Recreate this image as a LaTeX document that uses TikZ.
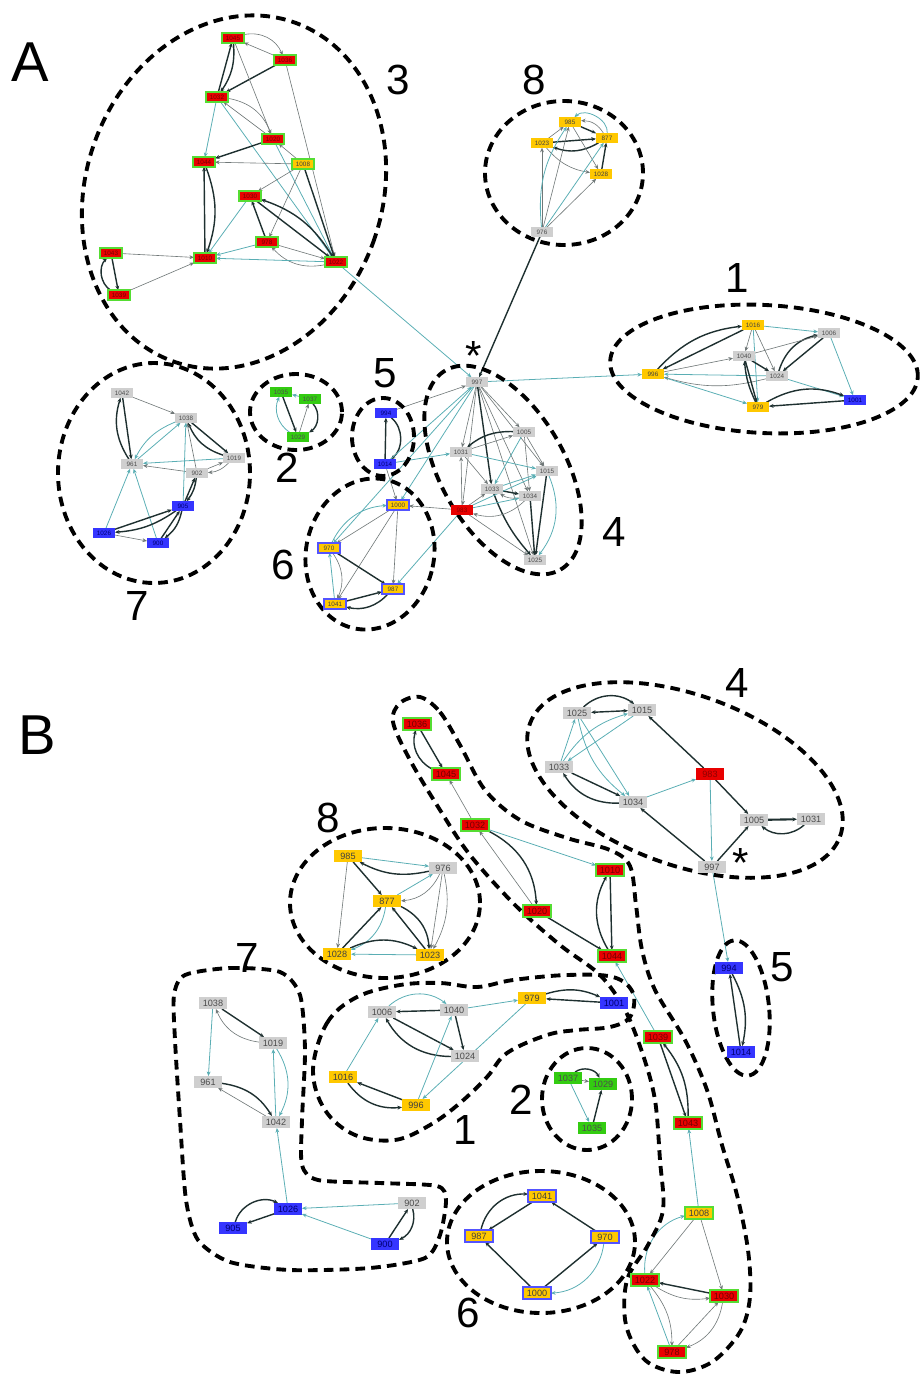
\documentclass[tikz,border=0pt]{standalone}
\usepackage{fontspec}
\setmainfont{Liberation Sans}
\usetikzlibrary{arrows.meta,shapes.geometric}
\pgfdeclarelayer{bg}
\pgfdeclarelayer{mid}
\pgfsetlayers{bg,mid,main}
\definecolor{nred}{HTML}{E80000}
\definecolor{nbord}{HTML}{55DD33}
\definecolor{ngreen}{HTML}{33CC11}
\definecolor{nyel}{HTML}{FFC800}
\definecolor{ngray}{HTML}{CFCFCF}
\definecolor{nblue}{HTML}{3535FF}
\definecolor{ekdark}{HTML}{1E3030}
\definecolor{ekgray}{HTML}{707878}
\definecolor{ekteal}{HTML}{5AAEB4}
\tikzset{
  nd/.style={rectangle, inner sep=0pt, outer sep=0pt},
  sa/.style={nd, minimum width=0.44cm, minimum height=0.19cm, font=\fontsize{3.6}{3.6}\selectfont},
  sb/.style={nd, minimum width=0.56cm, minimum height=0.24cm, font=\fontsize{5.2}{5.2}\selectfont},
  gr/.style={fill=ngray, text=black!70},
  ye/.style={fill=nyel, text=black!75},
  bl/.style={fill=nblue, text=black!55!blue},
  gn/.style={fill=ngreen, text=black!70},
  rd/.style={fill=nred, draw=nbord, line width=0.9pt, text=black!55!red},
  rp/.style={fill=nred, text=black!45!red},
  yg/.style={fill=nyel, draw=nbord, line width=0.9pt, text=black!75},
  yb/.style={fill=nyel, draw=nblue!85, line width=0.9pt, text=black!75},
  tipped/.style={-{Stealth[length=2.6pt,width=2.2pt]}},
  dk/.style={tipped, draw=ekdark, line width=0.8pt},
  gy/.style={tipped, draw=ekgray, line width=0.35pt},
  tl/.style={tipped, draw=ekteal, line width=0.45pt},
  hull/.style={draw=black, line width=2.2pt, dash pattern=on 5.5pt off 3.5pt},
  panel/.style={font=\fontsize{32}{32}\selectfont},
  num/.style={font=\fontsize{24}{24}\selectfont},
  star/.style={font=\fontsize{24}{24}\selectfont, inner sep=0pt, anchor=south},
}
\newcommand\mkA[4]{\node[sa,#4] (a#1) at (#2,-#3) {#1};}
\newcommand\mkB[4]{\node[sb,#4] (b#1) at (#2,-#3) {#1};}
\begin{document}
\begin{tikzpicture}[x=0.02cm, y=0.02cm]
\useasboundingbox (0,0) rectangle (921,-1377);

% ---------------- Panel A: nodes ----------------
% module 3
\mkA{1045}{233}{38}{rd}
\mkA{1036}{285}{60}{rd}
\mkA{1032}{217}{97}{rd}
\mkA{1020}{273}{139}{rd}
\mkA{1044}{204}{162}{rd}
\mkA{1008}{303}{164}{yg}
\mkA{1030}{250}{196}{rd}
\mkA{978}{267}{242}{rd}
\mkA{1010}{205}{258}{rd}
\mkA{1022}{336}{262}{rd}
\mkA{1043}{111}{253}{rd}
\mkA{1039}{119}{295}{rd}
% module 8
\mkA{985}{570}{122}{ye}
\mkA{877}{607}{138}{ye}
\mkA{1023}{542}{143}{ye}
\mkA{1028}{601}{174}{ye}
\mkA{976}{542}{232}{gr}
% module 1
\mkA{1016}{753}{325}{ye}
\mkA{1006}{829}{333}{gr}
\mkA{1040}{744}{356}{gr}
\mkA{996}{653}{374}{ye}
\mkA{1024}{777}{376}{gr}
\mkA{1001}{855}{400}{bl}
\mkA{979}{758}{407}{ye}
% module 7
\mkA{1042}{122}{393}{gr}
\mkA{1038}{186}{418}{gr}
\mkA{1019}{234}{458}{gr}
\mkA{961}{132}{464}{gr}
\mkA{902}{197}{473}{gr}
\mkA{905}{183}{506}{bl}
\mkA{1026}{104}{533}{bl}
\mkA{900}{158}{543}{bl}
% module 2
\mkA{1035}{281}{392}{gn}
\mkA{1037}{310}{399}{gn}
\mkA{1029}{298}{437}{gn}
% module 5
\mkA{994}{386}{413}{bl}
\mkA{1014}{385}{464}{bl}
% module 4
\mkA{997}{477}{382}{gr}
\mkA{1005}{524}{432}{gr}
\mkA{1031}{461}{452}{gr}
\mkA{1015}{547}{471}{gr}
\mkA{1033}{492}{489}{gr}
\mkA{1034}{530}{496}{gr}
\mkA{983}{462}{510}{rp}
\mkA{1025}{535}{560}{gr}
% module 6
\mkA{1000}{398}{505}{yb}
\mkA{970}{329}{548}{yb}
\mkA{987}{393}{589}{yb}
\mkA{1041}{335}{604}{yb}

% ---------------- Panel B: nodes ----------------
% module 4
\mkB{1025}{577}{713}{gr}
\mkB{1015}{642}{710}{gr}
\mkB{1033}{559}{767}{gr}
\mkB{983}{710}{774}{rp}
\mkB{1034}{633}{802}{gr}
\mkB{1005}{754}{820}{gr}
\mkB{1031}{811}{819}{gr}
\mkB{997}{712}{867}{gr}
% module 3
\mkB{1036}{417}{724}{rd}
\mkB{1045}{446}{774}{rd}
\mkB{1032}{475}{825}{rd}
\mkB{1010}{610}{870}{rd}
\mkB{1020}{537}{911}{rd}
\mkB{1044}{612}{956}{rd}
\mkB{1039}{658}{1037}{rd}
\mkB{1043}{688}{1123}{rd}
\mkB{1008}{699}{1213}{yg}
\mkB{1022}{645}{1280}{rd}
\mkB{1030}{724}{1296}{rd}
\mkB{978}{672}{1352}{rd}
% module 8
\mkB{985}{348}{856}{ye}
\mkB{976}{443}{868}{gr}
\mkB{877}{387}{901}{ye}
\mkB{1028}{337}{954}{ye}
\mkB{1023}{430}{955}{ye}
% module 1
\mkB{1006}{382}{1012}{gr}
\mkB{1040}{454}{1010}{gr}
\mkB{979}{532}{998}{ye}
\mkB{1001}{614}{1003}{bl}
\mkB{1024}{465}{1056}{gr}
\mkB{1016}{343}{1077}{ye}
\mkB{996}{416}{1105}{ye}
% module 2
\mkB{1037}{568}{1078}{gn}
\mkB{1029}{603}{1084}{gn}
\mkB{1035}{592}{1128}{gn}
% module 7
\mkB{1038}{213}{1003}{gr}
\mkB{1019}{273}{1043}{gr}
\mkB{961}{208}{1082}{gr}
\mkB{1042}{276}{1122}{gr}
\mkB{1026}{288}{1209}{bl}
\mkB{902}{412}{1203}{gr}
\mkB{905}{233}{1228}{bl}
\mkB{900}{385}{1244}{bl}
% module 5
\mkB{994}{729}{968}{bl}
\mkB{1014}{741}{1052}{bl}
% module 6
\mkB{1041}{542}{1196}{yb}
\mkB{987}{479}{1236}{yb}
\mkB{970}{605}{1237}{yb}
\mkB{1000}{537}{1293}{yb}

% ---------------- labels ----------------
\node[panel] (pA) at (30,-62) {A};
\node[panel] (pB) at (37,-735) {B};
\node[num] (nA3) at (398,-80) {3};
\node[num] (nA8) at (534,-80) {8};
\node[num] (nA1) at (737,-278) {1};
\node[num] (nA2) at (287,-468) {2};
\node[num] (nA5) at (385,-373) {5};
\node[num] (nA4) at (614,-532) {4};
\node[num] (nA6) at (283,-565) {6};
\node[num] (nA7) at (137,-606) {7};
\node[star] (sA) at (474,-371) {*};
\node[num] (nB4) at (737,-683) {4};
\node[num] (nB8) at (328,-818) {8};
\node[num] (nB7) at (247,-958) {7};
\node[num] (nB5) at (782,-967) {5};
\node[num] (nB2) at (521,-1100) {2};
\node[num] (nB1) at (465,-1130) {1};
\node[num] (nB6) at (468,-1313) {6};
\node[star] (sB) at (741,-878) {*};

% ---------------- module outlines ----------------
\begin{pgfonlayer}{mid}
% panel A
\draw[hull, rotate around={-20:(234,-192)}] (234,-192) ellipse [x radius=148, y radius=180];
\draw[hull] (564,-173) ellipse [x radius=79, y radius=72];
\draw[hull, rotate around={-3:(764,-369)}] (764,-369) ellipse [x radius=154, y radius=64];
\draw[hull] (154,-473) ellipse [x radius=96, y radius=110];
\draw[hull] (296,-412) ellipse [x radius=46, y radius=38];
\draw[hull] (383,-437) ellipse [x radius=31, y radius=39];
\draw[hull, rotate around={-60:(503,-470)}] (503,-470) ellipse [x radius=115, y radius=62];
\draw[hull, rotate around={-12:(370,-554)}] (370,-554) ellipse [x radius=64, y radius=76];
% panel B
\draw[hull, rotate around={-20:(685,-780)}] (685,-780) ellipse [x radius=165, y radius=85];
\draw[hull] (385,-903) ellipse [x radius=95, y radius=75];
\draw[hull] (587,-1099) ellipse [x radius=45, y radius=51];
\draw[hull, rotate around={6:(741,-1008)}] (741,-1008) ellipse [x radius=28, y radius=68];
\draw[hull] (541,-1242) ellipse [x radius=94, y radius=71];
% module 1 outline
\draw[hull] plot[smooth cycle, tension=0.6] coordinates {
  (313,-1070) (327,-1023) (357,-997) (400,-985) (440,-983) (477,-987)
  (513,-980) (567,-975) (613,-977) (633,-993) (630,-1017) (610,-1027)
  (577,-1030) (547,-1035) (507,-1053) (487,-1077) (460,-1103) (430,-1125)
  (395,-1140) (355,-1135) (325,-1110)};
% module 7 outline
\draw[hull] plot[smooth cycle, tension=0.45] coordinates {
  (185,-975) (230,-968) (280,-972) (300,-995) (305,-1050) (302,-1120)
  (302,-1165) (318,-1180) (380,-1183) (437,-1186) (446,-1200) (440,-1235)
  (425,-1258) (370,-1268) (290,-1270) (230,-1262) (198,-1240) (186,-1200)
  (180,-1120) (175,-1040) (174,-995)};
% module 3 outline
\draw[hull] plot[smooth cycle, tension=0.55] coordinates {
  (420,-697) (440,-712) (460,-745) (485,-790) (520,-820) (567,-838)
  (610,-850) (630,-866) (636,-905) (642,-950) (655,-990) (685,-1040)
  (707,-1090) (722,-1145) (737,-1195) (748,-1250) (750,-1297) (740,-1332)
  (712,-1362) (678,-1372) (645,-1360) (626,-1325) (627,-1280) (648,-1245)
  (663,-1210) (660,-1160) (655,-1100) (643,-1055) (625,-1010) (600,-975)
  (560,-945) (515,-905) (470,-855) (440,-810) (410,-760) (393,-722) (400,-703)};
\end{pgfonlayer}

% ---------------- interactions ----------------
\begin{pgfonlayer}{bg}
% panel A, module 3
\draw[gy] (a1045) to[bend left=40] (a1036);
\draw[gy] (a1036) -- (a1045);
\draw[dk] (a1032) -- (a1045);
\draw[dk] (a1045) to[bend left=20] (a1032);
\draw[dk] (a1036) -- (a1032);
\draw[gy] (a1045) -- (a1020);
\draw[gy] (a1032) to[bend left=30] (a1020);
\draw[gy] (a1020) -- (a1032);
\draw[tl] (a1032) -- (a1044);
\draw[tl] (a1032) -- (a1022);
\draw[dk] (a1020) -- (a1044);
\draw[gy] (a1008) -- (a1044);
\draw[gy] (a1008) -- (a1020);
\draw[gy] (a1036) -- (a1022);
\draw[tl] (a1020) -- (a1022);
\draw[gy] (a1008) -- (a1030);
\draw[gy] (a1008) -- (a978);
\draw[dk] (a1008) -- (a1022);
\draw[dk] (a1010) -- (a1044);
\draw[dk] (a1044) to[bend left=20] (a1010);
\draw[tl] (a1030) -- (a1010);
\draw[dk] (a978) -- (a1030);
\draw[dk] (a1030) -- (a1022);
\draw[dk] (a1022) to[bend right=20] (a1030);
\draw[tl] (a978) -- (a1010);
\draw[gy] (a978) -- (a1022);
\draw[gy] (a1022) to[bend left=30] (a978);
\draw[tl] (a1022) -- (a1010);
\draw[gy] (a1043) -- (a1010);
\draw[dk] (a1043) -- (a1039);
\draw[dk] (a1039) to[bend left=50] (a1043);
\draw[gy] (a1039) -- (a1010);
% panel A, links between modules
\draw[tl] (a1022) -- (a997);
\draw[dk] (a976) -- (a997);
\draw[tl] (a997) -- (a996);
% panel A, module 8
\draw[dk] (a1023) -- (a877);
\draw[dk] (a877) to[bend left=25] (a1023);
\draw[dk] (a985) -- (a877);
\draw[gy] (a877) to[bend right=30] (a985);
\draw[gy] (a985) -- (a1028);
\draw[gy] (a1023) to[bend right=20] (a1028);
\draw[dk] (a1028) -- (a877);
\draw[gy] (a1023) -- (a985);
\draw[gy] (a976) -- (a1023);
\draw[gy] (a976) -- (a985);
\draw[tl] (a976) -- (a877);
\draw[gy] (a976) -- (a1028);
\draw[tl] (a976) to[bend left=20] (a985);
\draw[tl] (a877) to[bend right=70] (a985);
% panel A, module 1
\draw[dk] (a996) to[bend left=20] (a1016);
\draw[dk] (a1016) -- (a996);
\draw[gy] (a996) -- (a1040);
\draw[tl] (a1024) -- (a996);
\draw[gy] (a1024) to[bend left=15] (a996);
\draw[tl] (a996) -- (a979);
\draw[gy] (a1016) -- (a1040);
\draw[gy] (a1016) -- (a1024);
\draw[tl] (a1016) -- (a979);
\draw[tl] (a1016) -- (a1006);
\draw[dk] (a1040) -- (a1024);
\draw[dk] (a1040) -- (a979);
\draw[dk] (a979) to[bend left=10] (a1040);
\draw[dk] (a1024) to[bend left=30] (a1006);
\draw[dk] (a1006) -- (a1024);
\draw[gy] (a1040) -- (a1006);
\draw[tl] (a1024) -- (a1001);
\draw[dk] (a979) to[bend left=25] (a1001);
\draw[dk] (a1001) -- (a979);
\draw[tl] (a1006) -- (a1001);
% panel A, module 7
\draw[dk] (a1042) -- (a961);
\draw[dk] (a961) to[bend left=25] (a1042);
\draw[gy] (a1042) -- (a1038);
\draw[tl] (a961) -- (a1038);
\draw[tl] (a1038) to[bend right=20] (a961);
\draw[dk] (a1038) -- (a1019);
\draw[dk] (a1019) to[bend left=25] (a1038);
\draw[tl] (a1019) -- (a961);
\draw[gy] (a902) -- (a961);
\draw[gy] (a902) -- (a1019);
\draw[gy] (a1019) to[bend left=20] (a902);
\draw[gy] (a902) -- (a1038);
\draw[dk] (a905) -- (a902);
\draw[dk] (a902) to[bend left=15] (a905);
\draw[tl] (a905) -- (a1038);
\draw[tl] (a1026) -- (a961);
\draw[tl] (a900) -- (a961);
\draw[dk] (a1026) -- (a905);
\draw[dk] (a905) to[bend left=15] (a1026);
\draw[dk] (a900) -- (a905);
\draw[dk] (a905) to[bend left=20] (a900);
\draw[gy] (a1026) -- (a900);
% panel A, module 2
\draw[dk] (a1035) -- (a1029);
\draw[tl] (a1029) to[bend left=40] (a1035);
\draw[dk] (a1037) to[bend left=50] (a1029);
\draw[gy] (a1029) -- (a1037);
\draw[tl] (a1037) -- (a1035);
% panel A, module 5
\draw[dk] (a1014) -- (a994);
\draw[dk] (a994) to[bend left=50] (a1014);
\draw[gy] (a994) -- (a997);
\draw[tl] (a1014) -- (a1031);
\draw[gy] (a1014) -- (a1000);
\draw[tl] (a1014) -- (a997);
% panel A, module 4
\foreach \t in {1005,1031,1015,1034,983,1025} \draw[gy] (a997) -- (a\t);
\draw[dk] (a997) -- (a1033);
\draw[dk] (a1005) to[bend right=20] (a1031);
\draw[gy] (a1031) -- (a1005);
\draw[gy] (a1005) -- (a1015);
\draw[tl] (a1005) -- (a1033);
\draw[gy] (a1005) -- (a1034);
\draw[gy] (a1031) -- (a1033);
\draw[tl] (a1031) -- (a1015);
\draw[dk] (a1033) -- (a1034);
\draw[gy] (a1034) to[bend left=20] (a1033);
\draw[tl] (a1033) -- (a1015);
\draw[dk] (a1015) -- (a1025);
\draw[dk] (a1034) -- (a1025);
\draw[dk] (a1033) to[bend right=10] (a1025);
\draw[gy] (a983) -- (a1033);
\draw[gy] (a983) -- (a1025);
\draw[gy] (a983) -- (a1031);
\draw[tl] (a983) -- (a1034);
\draw[gy] (a1034) to[bend left=30] (a983);
\draw[tl] (a983) -- (a1015);
\draw[tl] (a1015) to[bend left=30] (a1025);
\draw[tl] (a997) -- (a1000);
\draw[gy] (a983) -- (a1000);
\draw[tl] (a997) -- (a970);
\draw[tl] (a983) -- (a987);
% panel A, module 6
\draw[gy] (a1000) -- (a970);
\draw[gy] (a1000) -- (a987);
\draw[gy] (a1000) -- (a1041);
\draw[dk] (a970) -- (a987);
\draw[tl] (a1041) -- (a970);
\draw[gy] (a970) to[bend left=30] (a1041);
\draw[dk] (a1041) -- (a987);
\draw[dk] (a987) to[bend left=30] (a1041);
\draw[tl] (a970) to[bend left=30] (a1000);

% panel B, module 4
\draw[dk,{Stealth[length=2.6pt,width=2.2pt]}-{Stealth[length=2.6pt,width=2.2pt]}] (b1025) -- (b1015);
\draw[dk] (b1025) to[bend left=40] (b1015);
\draw[tl] (b1033) -- (b1025);
\draw[tl] (b1033) to[bend left=20] (b1015);
\draw[tl] (b1015) -- (b1033);
\draw[tl] (b1025) -- (b1034);
\draw[tl] (b1025) to[bend right=20] (b1034);
\draw[dk] (b1033) -- (b1034);
\draw[dk] (b1034) to[bend left=30] (b1033);
\draw[dk] (b983) -- (b1015);
\draw[tl] (b1034) -- (b983);
\draw[dk] (b983) -- (b1005);
\draw[tl] (b983) -- (b997);
\draw[dk] (b997) -- (b1034);
\draw[dk] (b997) -- (b1005);
\draw[dk, line width=1.2pt] (b1005) -- (b1031);
\draw[dk] (b1031) to[bend left=40] (b1005);
\draw[tl] (b997) -- (b994);
% panel B, module 3
\draw[dk] (b1036) -- (b1045);
\draw[dk] (b1045) to[bend left=40] (b1036);
\draw[gy] (b1032) -- (b1045);
\draw[tl] (b1032) -- (b1010);
\draw[dk] (b1032) to[bend left=30] (b1020);
\draw[gy] (b1020) -- (b1032);
\draw[dk] (b1020) -- (b1044);
\draw[dk] (b1010) -- (b1044);
\draw[dk] (b1044) to[bend left=30] (b1010);
\draw[tl] (b1039) -- (b1044);
\draw[dk] (b1039) -- (b1043);
\draw[dk] (b1043) to[bend right=20] (b1039);
\draw[tl] (b1008) -- (b1043);
\draw[gy] (b1008) -- (b1022);
\draw[tl] (b1022) to[bend left=40] (b1008);
\draw[gy] (b1008) -- (b1030);
\draw[dk] (b1030) -- (b1022);
\draw[gy] (b1022) to[bend right=20] (b1030);
\draw[gy] (b1022) to[bend left=20] (b978);
\draw[tl] (b978) -- (b1022);
\draw[gy] (b978) -- (b1030);
\draw[gy] (b1030) to[bend left=30] (b978);
% panel B, module 8
\draw[tl] (b985) -- (b976);
\draw[dk] (b976) to[bend left=20] (b985);
\draw[dk] (b985) -- (b877);
\draw[gy] (b985) -- (b1028);
\draw[tl] (b877) -- (b976);
\draw[gy] (b976) to[bend left=30] (b877);
\draw[gy] (b976) -- (b1023);
\draw[gy] (b976) to[bend left=20] (b1023);
\draw[dk] (b1028) -- (b877);
\draw[tl] (b877) to[bend left=30] (b1028);
\draw[dk] (b1023) -- (b877);
\draw[dk] (b877) to[bend left=30] (b1023);
\draw[dk] (b1028) to[bend left=25] (b1023);
\draw[tl] (b1023) -- (b1028);
% panel B, module 1
\draw[dk] (b1040) -- (b1006);
\draw[tl] (b1006) to[bend left=40] (b1040);
\draw[dk] (b1006) -- (b1024);
\draw[dk] (b1024) to[bend left=30] (b1006);
\draw[dk] (b1040) -- (b1024);
\draw[tl] (b1040) -- (b979);
\draw[tl] (b979) -- (b996);
\draw[tl] (b996) -- (b1040);
\draw[tl] (b1016) -- (b1006);
\draw[dk] (b996) -- (b1016);
\draw[dk] (b1016) to[bend right=30] (b996);
\draw[dk] (b979) to[bend left=20] (b1001);
\draw[dk] (b1001) -- (b979);
% panel B, module 2
\draw[gy] (b1037) -- (b1029);
\draw[dk] (b1037) to[bend left=50] (b1029);
\draw[tl] (b1037) -- (b1035);
\draw[dk] (b1035) -- (b1029);
% panel B, module 7
\draw[tl] (b1038) -- (b961);
\draw[dk] (b1038) -- (b1019);
\draw[gy] (b1019) to[bend left=30] (b1038);
\draw[dk] (b961) to[bend left=25] (b1042);
\draw[gy] (b1042) -- (b961);
\draw[tl] (b1042) -- (b1019);
\draw[tl] (b1019) to[bend left=30] (b1042);
\draw[tl] (b1026) -- (b1042);
\draw[tl] (b902) -- (b1026);
\draw[tl] (b900) -- (b1026);
\draw[dk] (b1026) -- (b905);
\draw[dk] (b905) to[bend left=50] (b1026);
\draw[dk] (b900) -- (b902);
\draw[dk] (b902) to[bend left=40] (b900);
% panel B, module 6
\draw[dk] (b1041) -- (b987);
\draw[dk] (b987) to[bend left=40] (b1041);
\draw[dk] (b970) -- (b1041);
\draw[dk] (b1000) -- (b987);
\draw[dk] (b1000) -- (b970);
\draw[tl] (b970) to[bend left=40] (b1000);
% panel B, module 5
\draw[dk] (b994) to[bend left=20] (b1014);
\draw[dk] (b1014) -- (b994);
\end{pgfonlayer}
\end{tikzpicture}
\end{document}
